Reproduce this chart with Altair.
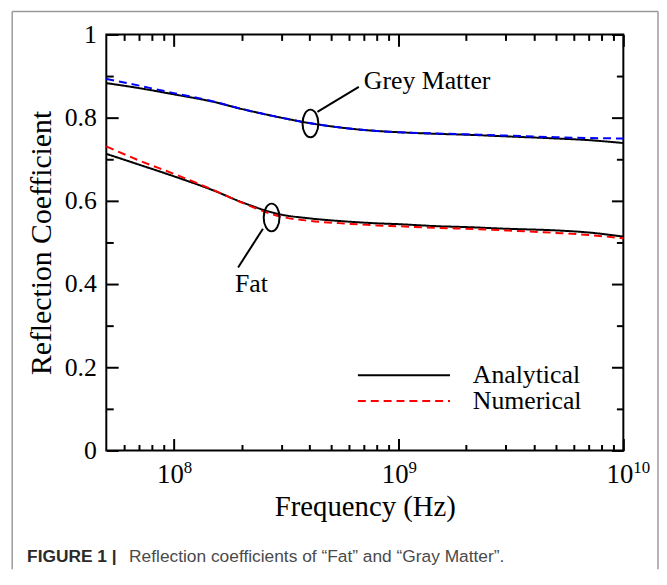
import altair as alt
import pandas as pd

# ---------------- data ----------------
freq = [5e7, 7e7, 1e8, 1.5e8, 2e8, 3e8, 4e8, 6e8, 8e8, 1e9, 1.5e9, 2e9, 3e9, 5e9, 7e9, 1e10]
gm_analytical = [0.883, 0.871, 0.856, 0.838, 0.821, 0.800, 0.787, 0.774, 0.768, 0.765,
                 0.761, 0.759, 0.755, 0.750, 0.746, 0.739]
gm_numerical = [0.893, 0.877, 0.859, 0.839, 0.821, 0.800, 0.787, 0.774, 0.768, 0.765,
                0.762, 0.760, 0.757, 0.753, 0.751, 0.750]
fat_analytical = [0.713, 0.687, 0.659, 0.625, 0.597, 0.567, 0.558, 0.550, 0.546, 0.544,
                  0.539, 0.537, 0.533, 0.529, 0.524, 0.514]
fat_numerical = [0.731, 0.697, 0.665, 0.626, 0.596, 0.562, 0.552, 0.545, 0.541, 0.539,
                 0.535, 0.533, 0.529, 0.523, 0.518, 0.510]

series_keys = ["GM-A", "GM-N", "Fat-A", "Fat-N"]
series_methods = ["Analytical", "Numerical", "Analytical", "Numerical"]
series_values = [gm_analytical, gm_numerical, fat_analytical, fat_numerical]
series_colors = ["#000000", "#0000ff", "#000000", "#ff0000"]
method_dash = {"Analytical": [1, 0], "Numerical": [8, 5]}

x_major = [1e8, 1e9, 1e10]
x_major_base = ["10", "10", "10"]
x_major_exp = ["8", "9", "10"]
x_minor = [6e7, 7e7, 8e7, 9e7, 2e8, 3e8, 4e8, 5e8, 6e8, 7e8, 8e8, 9e8,
           2e9, 3e9, 4e9, 5e9, 6e9, 7e9, 8e9, 9e9]
y_major = [0, 0.2, 0.4, 0.6, 0.8, 1.0]
y_minor = [0.1, 0.3, 0.5, 0.7, 0.9]

# annotations (in data space)
ell_x = [4.05e8, 2.72e8]
ell_y = [0.786, 0.560]
lead_x = [4.35e8, 2.49e8]
lead_y = [0.814, 0.533]
lead_x2 = [6.65e8, 1.93e8]
lead_y2 = [0.874, 0.440]
label_x = [7.0e8, 1.87e8]
label_y = [0.869, 0.381]
label_text = ["Grey Matter", "Fat"]

caption_bold = "FIGURE 1 |"
caption_rest = "Reflection coefficients of \u201cFat\u201d and \u201cGray Matter\u201d."

# ---------------- tables ----------------
rows = []
for key, m, vals in zip(series_keys, series_methods, series_values):
    for f, v in zip(freq, vals):
        rows.append({"freq": f, "value": v, "series": key, "method": m})
df = pd.DataFrame(rows)
ann = pd.DataFrame({"ex": ell_x, "ey": ell_y, "lx": lead_x, "ly": lead_y,
                    "lx2": lead_x2, "ly2": lead_y2, "tx": label_x, "ty": label_y,
                    "txt": label_text})
ticks_df = pd.DataFrame({"x": x_major, "base": x_major_base, "exp": x_major_exp})
one = pd.DataFrame({"a": [0]})

W, H = 522, 420
SERIF = "Liberation Serif"

x_scale = alt.Scale(type="log", domain=[5e7, 1e10], nice=False)
y_scale = alt.Scale(domain=[0, 1], nice=False, zero=False)
color_scale = alt.Scale(domain=series_keys, range=series_colors)


def make_legend(y, col):
    return alt.Legend(
        orient="none", legendX=253, legendY=y, title=None,
        symbolType="stroke", symbolSize=8649, symbolStrokeWidth=2,
        symbolStrokeColor=col,
        labelFont=SERIF, labelFontSize=26, labelColor="black", labelOffset=22,
        clipHeight=26, rowPadding=0, padding=0,
    )


legend_spec = {"GM-A": make_legend(331, "#000000"), "Fat-N": make_legend(357, "#ff0000")}


def ax(orient, values, size, **kw):
    d = dict(orient=orient, values=values, tickSize=size, offset=-size, domain=False,
             grid=False, ticks=True, tickColor="black", tickWidth=2, labels=False)
    d.update(kw)
    return alt.Axis(**d)


axis_pairs = [
    (ax("bottom", x_major, 12, title="Frequency (Hz)", titleFont=SERIF, titleFontSize=29,
        titleFontWeight="normal", titleColor="black", titlePadding=42),
     ax("left", y_major, 12, labels=True, format=".1~f", labelFont=SERIF, labelFontSize=26,
        labelColor="black", labelPadding=10, title="Reflection Coefficient", titleFont=SERIF,
        titleFontSize=30, titleFontWeight="normal", titleColor="black", titlePadding=8)),
    (ax("bottom", x_minor, 6, title=None), ax("left", y_minor, 7, title=None)),
    (ax("top", x_major, 12, title=None), ax("right", y_major, 12, title=None)),
    (ax("top", x_minor, 6, title=None), ax("right", y_minor, 7, title=None)),
]

layers = []
for key, m, (xa, ya) in zip(series_keys, series_methods, axis_pairs):
    if key in legend_spec:
        dash = alt.StrokeDash("method:N", scale=alt.Scale(domain=[m], range=[method_dash[m]]),
                              legend=legend_spec[key])
    else:
        dash = alt.StrokeDash("method:N", scale=alt.Scale(domain=[m], range=[method_dash[m]]),
                              legend=None)
    layers.append(
        alt.Chart(df).transform_filter(alt.datum.series == key).mark_line(
            strokeWidth=2, interpolate="monotone").encode(
            x=alt.X("freq:Q", scale=x_scale, axis=xa),
            y=alt.Y("value:Q", scale=y_scale, axis=ya),
            color=alt.Color("series:N", scale=color_scale, legend=None),
            strokeDash=dash,
            order=alt.Order("freq:Q"),
        )
    )

ann_base = alt.Chart(ann)
ellipse_path = "M0,-1A0.57,1,0,1,1,0,1A0.57,1,0,1,1,0,-1Z"
ellipses = ann_base.mark_point(shape=ellipse_path, size=784, filled=False,
                               color="black", strokeWidth=2, opacity=1).encode(
    x=alt.X("ex:Q", scale=x_scale, axis=None), y=alt.Y("ey:Q", scale=y_scale, axis=None))
leaders = ann_base.mark_rule(color="black", strokeWidth=2).encode(
    x=alt.X("lx:Q", scale=x_scale, axis=None), y=alt.Y("ly:Q", scale=y_scale, axis=None),
    x2="lx2:Q", y2="ly2:Q")
labels = ann_base.mark_text(font=SERIF, fontSize=26, align="left", baseline="alphabetic",
                            color="black").encode(
    x=alt.X("tx:Q", scale=x_scale, axis=None), y=alt.Y("ty:Q", scale=y_scale, axis=None),
    text="txt:N")

tick_base = alt.Chart(ticks_df).mark_text(font=SERIF, fontSize=27, align="right",
                                          baseline="alphabetic", dx=10, color="black").encode(
    x=alt.X("x:Q", scale=x_scale, axis=None), y=alt.value(H + 33), text="base:N")
tick_exp = alt.Chart(ticks_df).mark_text(font=SERIF, fontSize=17, align="left",
                                         baseline="alphabetic", dx=10, color="black").encode(
    x=alt.X("x:Q", scale=x_scale, axis=None), y=alt.value(H + 23), text="exp:N")

# figure frame and caption (decoration)
border_col = "#9a9a9a"
b_left = alt.Chart(one).mark_rule(color=border_col, strokeWidth=1.5).encode(
    x=alt.value(-95), y=alt.value(-23.25), y2=alt.value(540))
b_top = alt.Chart(one).mark_rule(color=border_col, strokeWidth=1.5).encode(
    x=alt.value(-95), x2=alt.value(557), y=alt.value(-23.25))
b_right = alt.Chart(one).mark_rule(color=border_col, strokeWidth=1.5).encode(
    x=alt.value(557), y=alt.value(-23.25), y2=alt.value(540))
cap1 = alt.Chart(one).mark_text(font="Liberation Sans", fontSize=17.5, fontWeight="bold",
                                align="left", baseline="alphabetic", color="#2a2a2a").encode(
    x=alt.value(-80), y=alt.value(533), text=alt.value(caption_bold))
cap2 = alt.Chart(one).mark_text(font="Liberation Sans", fontSize=17.5, align="left",
                                baseline="alphabetic", color="#4a4a4a").encode(
    x=alt.value(23), y=alt.value(533), text=alt.value(caption_rest))

chart = alt.layer(
    *layers, ellipses, leaders, labels, tick_base, tick_exp,
    b_left, b_top, b_right, cap1, cap2
).resolve_axis(x="independent", y="independent").resolve_scale(
    strokeDash="independent").resolve_legend(strokeDash="independent").properties(
    width=W, height=H, background="white",
    padding={"left": 3.25, "top": 0, "right": 0, "bottom": 0},
).configure_view(stroke="black", strokeWidth=2)

chart.save("out.html", embed_options={"renderer": "svg", "actions": False})
